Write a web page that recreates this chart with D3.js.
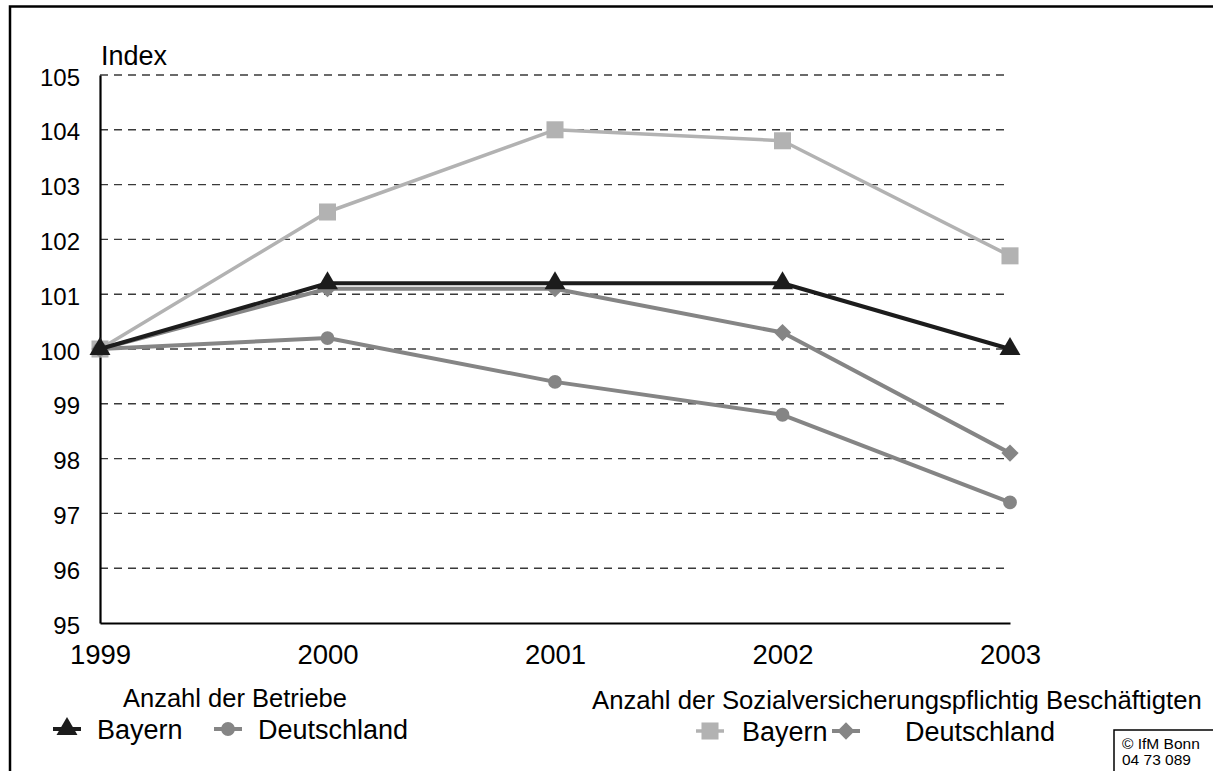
<!DOCTYPE html>
<html>
<head>
<meta charset="utf-8">
<script src="https://cdn.jsdelivr.net/npm/d3@7"></script>
<style>
  html, body { margin: 0; padding: 0; background: #fff; overflow: hidden; }
  svg text { font-family: "Liberation Sans", Arial, sans-serif; fill: #000; }
</style>
</head>
<body>
<div id="chart"></div>
<script>
// data
const years = [1999, 2000, 2001, 2002, 2003];
const yTicks = [95, 96, 97, 98, 99, 100, 101, 102, 103, 104, 105];
const betriebeBayern = [100, 101.2, 101.2, 101.2, 100];
const betriebeDeutschland = [100, 100.2, 99.4, 98.8, 97.2];
const svBayern = [100, 102.5, 104.0, 103.8, 101.7];
const svDeutschland = [100, 101.1, 101.1, 100.3, 98.1];

const legendTitleLeft = "Anzahl der Betriebe";
const legendTitleRight = "Anzahl der Sozialversicherungspflichtig Beschäftigten";
const copyrightLines = ["© IfM Bonn", "04 73 089"];

// drawing order: back to front
const series = [
    { name: "Bayern", group: "sv", values: svBayern, color: "#b2b2b2", width: 3.5, symbol: d3.symbolSquare, size: 290 },
    { name: "Deutschland", group: "sv", values: svDeutschland, color: "#858585", width: 4, symbol: d3.symbolDiamond2, size: 190 },
    { name: "Deutschland", group: "betriebe", values: betriebeDeutschland, color: "#858585", width: 4, symbol: d3.symbolCircle, size: 150 },
    { name: "Bayern", group: "betriebe", values: betriebeBayern, color: "#1c1c1c", width: 4, symbol: d3.symbolTriangle, size: 190 },
];

const W = 1213, H = 771;
const margin = { top: 75, left: 100 };
const plotW = 910, plotH = 548;

const svg = d3.select("#chart").append("svg").attr("width", W).attr("height", H);

// outer frame (right and bottom run off the picture)
svg.append("rect")
    .attr("x", 10).attr("y", 6.5)
    .attr("width", W + 40).attr("height", H + 40)
    .attr("fill", "none").attr("stroke", "#000").attr("stroke-width", 2.5);

const chart = svg.append("g").attr("transform", `translate(${margin.left},${margin.top})`);

const x = d3.scaleLinear().domain([1999, 2003]).range([0, plotW]);
const y = d3.scaleLinear().domain([95, 105]).range([plotH, 0]);

// dashed grid
chart.append("g")
    .selectAll("line")
    .data(yTicks.filter((d) => d > 95))
    .join("line")
    .attr("x1", 0).attr("x2", plotW)
    .attr("y1", (d) => y(d)).attr("y2", (d) => y(d))
    .attr("stroke", "#3a3a3a").attr("stroke-width", 1.4)
    .attr("stroke-dasharray", "8,6");

// axes
const yAxis = chart.append("g")
    .call(d3.axisLeft(y).tickValues(yTicks).tickSize(0).tickPadding(20).tickFormat(d3.format("d")));
yAxis.select(".domain").attr("stroke", "#000").attr("stroke-width", 2.2);
yAxis.selectAll("text").attr("font-size", 24).attr("dy", "0.42em").style("font-family", "Liberation Sans, Arial, sans-serif");

const xAxis = chart.append("g")
    .attr("transform", `translate(0,${plotH})`)
    .call(d3.axisBottom(x).tickValues(years).tickSize(0).tickPadding(21).tickFormat(d3.format("d")));
xAxis.select(".domain").attr("stroke", "#000").attr("stroke-width", 2.2);
xAxis.selectAll("text").attr("font-size", 27.5).attr("dy", "0.71em").style("font-family", "Liberation Sans, Arial, sans-serif");

chart.append("text")
    .attr("x", 1).attr("y", -10)
    .attr("font-size", 27)
    .text("Index");

// lines and markers
const line = d3.line()
    .x((d, i) => x(years[i]))
    .y((d) => y(d));

series.forEach((s) => {
    const g = chart.append("g");
    g.append("path")
        .datum(s.values)
        .attr("fill", "none")
        .attr("stroke", s.color)
        .attr("stroke-width", s.width)
        .attr("stroke-linejoin", "round")
        .attr("d", line);
    g.selectAll(".pt")
        .data(s.values)
        .join("path")
        .attr("class", "pt")
        .attr("transform", (d, i) => `translate(${x(years[i])},${y(d)})`)
        .attr("d", d3.symbol().type(s.symbol).size(s.size))
        .attr("fill", s.color);
});

// legend
function legendItem(s, cx, cy, textX) {
    const g = svg.append("g");
    g.append("line")
        .attr("x1", cx - 14).attr("x2", cx + 14)
        .attr("y1", cy).attr("y2", cy)
        .attr("stroke", s.color).attr("stroke-width", s.width);
    g.append("path")
        .attr("transform", `translate(${cx},${cy})`)
        .attr("d", d3.symbol().type(s.symbol).size(s.size))
        .attr("fill", s.color);
    g.append("text")
        .attr("x", textX).attr("y", cy + 10)
        .attr("font-size", 27)
        .text(s.name);
}

svg.append("text")
    .attr("x", 235).attr("y", 707)
    .attr("text-anchor", "middle")
    .attr("font-size", 25.5)
    .text(legendTitleLeft);
svg.append("text")
    .attr("x", 592).attr("y", 709)
    .attr("font-size", 25.7)
    .text(legendTitleRight);

legendItem(series[3], 67, 729, 97);
legendItem(series[2], 228, 729, 258);
legendItem(series[0], 710, 731, 742);
legendItem(series[1], 846, 731, 905);

// copyright box
svg.append("rect")
    .attr("x", 1114).attr("y", 730)
    .attr("width", 120).attr("height", 60)
    .attr("fill", "#fff").attr("stroke", "#000").attr("stroke-width", 1.5);
svg.append("g")
    .selectAll("text")
    .data(copyrightLines)
    .join("text")
    .attr("x", 1122)
    .attr("y", (d, i) => 749 + i * 16)
    .attr("font-size", 15.5)
    .text((d) => d);
</script>
</body>
</html>
